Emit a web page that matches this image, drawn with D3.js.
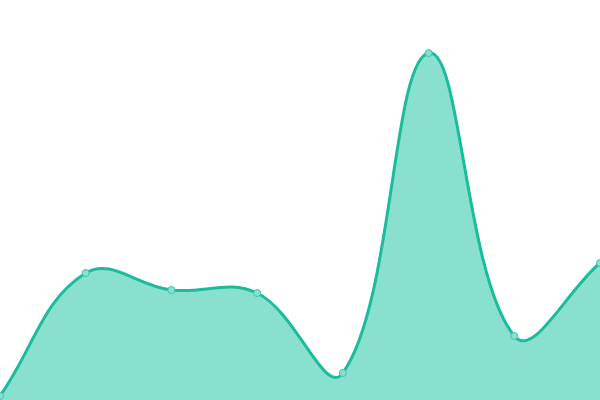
<!DOCTYPE html>
<html>
<head>
<meta charset="utf-8">
<script src="https://cdn.jsdelivr.net/npm/d3@7"></script>
<style>
  body { margin: 0; background: #fff; }
  svg { display: block; }
</style>
</head>
<body>
<svg id="chart" width="600" height="400"></svg>
<script>
const categories = ['A', 'B', 'C', 'D', 'E', 'F', 'G', 'H'];
const values = [1, 31.75, 27.5, 26.75, 6.75, 86.75, 16, 34.25];

const width = 600;
const height = 400;

// spline with distance-weighted control points (tension 0.4),
// control points kept inside the plot box
function SplineCurve(context, t) {
  this._context = context;
  this._t = t;
}
SplineCurve.prototype = {
  areaStart() { this._line = 0; },
  areaEnd() { this._line = NaN; },
  lineStart() { this._x = []; this._y = []; },
  point(x, y) { this._x.push(+x); this._y.push(+y); },
  lineEnd() {
    const xs = this._x, ys = this._y, n = xs.length, c = this._context, t = this._t;
    const clampX = v => Math.max(0, Math.min(width, v));
    const clampY = v => Math.max(0, Math.min(height, v));
    if (n) {
      this._line ? c.lineTo(xs[0], ys[0]) : c.moveTo(xs[0], ys[0]);
      const cp = [];
      for (let i = 0; i < n; i++) {
        const p = Math.max(i - 1, 0), q = Math.min(i + 1, n - 1);
        const d01 = Math.hypot(xs[i] - xs[p], ys[i] - ys[p]);
        const d12 = Math.hypot(xs[q] - xs[i], ys[q] - ys[i]);
        const s01 = d01 / (d01 + d12) || 0;
        const s12 = d12 / (d01 + d12) || 0;
        const fa = t * s01, fb = t * s12;
        cp[i] = {
          px: clampX(xs[i] - fa * (xs[q] - xs[p])),
          py: clampY(ys[i] - fa * (ys[q] - ys[p])),
          nx: clampX(xs[i] + fb * (xs[q] - xs[p])),
          ny: clampY(ys[i] + fb * (ys[q] - ys[p]))
        };
      }
      for (let i = 1; i < n; i++) {
        c.bezierCurveTo(cp[i - 1].nx, cp[i - 1].ny, cp[i].px, cp[i].py, xs[i], ys[i]);
      }
    }
    if (this._line || (this._line !== 0 && n === 1)) c.closePath();
    this._line = 1 - this._line;
  }
};
const curveSpline = context => new SplineCurve(context, 0.4);

const svg = d3.select('#chart');

const data = categories.map((c, i) => ({ label: c, value: values[i] }));

const x = d3.scalePoint()
  .domain(categories)
  .range([0, width]);

const y = d3.scaleLinear()
  .domain([0, 100])
  .range([height, 0]);

const area = d3.area()
  .x(d => x(d.label))
  .y0(height)
  .y1(d => y(d.value))
  .curve(curveSpline);

const line = d3.line()
  .x(d => x(d.label))
  .y(d => y(d.value))
  .curve(curveSpline);

svg.append('path')
  .datum(data)
  .attr('fill', '#8ae0cf')
  .attr('d', area);

svg.append('path')
  .datum(data)
  .attr('fill', 'none')
  .attr('stroke', '#1abc9c')
  .attr('stroke-width', 3)
  .attr('d', line);

svg.selectAll('.dot')
  .data(data)
  .enter().append('circle')
  .attr('class', 'dot')
  .attr('cx', d => x(d.label))
  .attr('cy', d => y(d.value))
  .attr('r', 3.5)
  .attr('fill', '#8ae0cf')
  .attr('stroke', '#3cc7a9')
  .attr('stroke-width', 1);
</script>
</body>
</html>
